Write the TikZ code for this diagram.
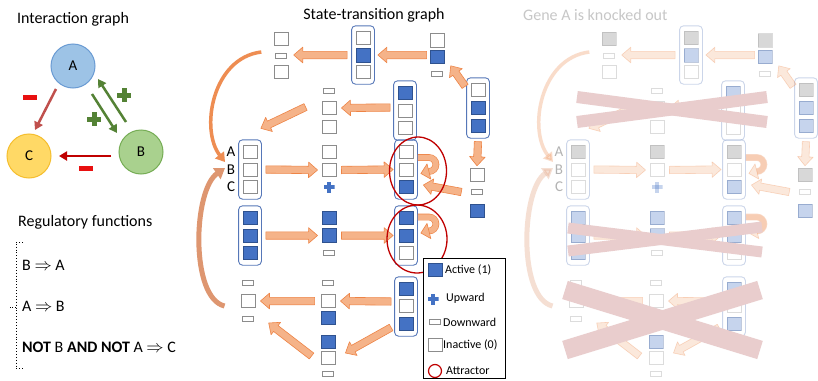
\documentclass[tikz,border=0pt]{standalone}
\usepackage{fontspec}
\setmainfont{Carlito}
\usetikzlibrary{calc,fit,shapes.geometric,arrows.meta}
\definecolor{blueact}{HTML}{4472C4}
\definecolor{bluedark}{HTML}{2F528F}
\definecolor{cellgray}{HTML}{8C8C8C}
\definecolor{cellknock}{HTML}{7F7F7F}
\definecolor{boxblue}{HTML}{5677B8}
\definecolor{arrfill}{HTML}{F5B389}
\definecolor{arrdraw}{HTML}{EE8446}
\definecolor{curveA}{HTML}{EE8D52}
\definecolor{curveB}{HTML}{DE9670}
\definecolor{attred}{HTML}{C00000}
\definecolor{fillA}{HTML}{9DC3E6}
\definecolor{edgeA}{HTML}{6A9BD3}
\definecolor{fillB}{HTML}{A9D18E}
\definecolor{edgeB}{HTML}{76AD55}
\definecolor{fillC}{HTML}{FFD966}
\definecolor{edgeC}{HTML}{F5BE2E}
\definecolor{redA}{HTML}{C0504D}
\definecolor{redB}{HTML}{C00000}
\definecolor{grn}{HTML}{548235}
\definecolor{minred}{HTML}{E81010}
\definecolor{xpink}{HTML}{E9CDCD}

\def\awid{3.7pt}\def\ahw{7.8pt}\def\ahl{9pt}

\newcommand\blkarrow[2]{\path[blk] let \p1=(#1), \p2=(#2), \n1={atan2(\y2-\y1,\x2-\x1)} in
 ($(\p1)+(\n1+90:\awid)$) -- ($(\p2)+(\n1+180:\ahl)+(\n1+90:\awid)$) -- ($(\p2)+(\n1+180:\ahl)+(\n1+90:\ahw)$) -- (\p2) -- ($(\p2)+(\n1+180:\ahl)+(\n1-90:\ahw)$) -- ($(\p2)+(\n1+180:\ahl)+(\n1-90:\awid)$) -- ($(\p1)+(\n1-90:\awid)$) -- cycle;}

\newcommand\blkhead[2]{\path[blk] let \p1=(#1), \p2=(#2), \n1={atan2(\y2-\y1,\x2-\x1)} in
 ($(\p1)+(\n1+90:\ahw)$) -- (\p2) -- ($(\p1)+(\n1-90:\ahw)$) -- cycle;}

\newcommand\st[9]{%
 \node[cell-#6] (#1-1) at (#2,#3) {};
 \node[cell-#7] (#1-2) at (#2,#4) {};
 \node[cell-#8] (#1-3) at (#2,#5) {};
 \node[#9, fit=(#1-1)(#1-3)] (#1) {};
}

\newcommand\drawpanel[1]{%
 \st{#1tl}{281}{39}{56}{72}{a}{d}{w}{stplain}
 \st{#1tm}{363}{38}{55.5}{72}{a}{b}{w}{stbox}
 \st{#1tr}{437}{40.5}{57}{74}{a}{b}{d}{stplain}
 \st{#1rbl}{329}{91}{108}{127}{d}{w}{w}{stplain}
 \st{#1rbm}{405}{93}{111}{128}{b}{w}{w}{stbox}
 \st{#1rbr}{478}{90}{108}{126}{a}{b}{b}{stbox}
 \st{#1abc}{250}{152}{170}{187}{a}{w}{w}{stbox}
 \st{#1rcm}{329}{152}{170}{187}{a}{w}{u}{stplain}
 \st{#1rcr}{406}{152}{170}{187}{a}{w}{b}{stbox}
 \st{#1rcf}{477}{175}{192}{211}{a}{d}{b}{stplain}
 \st{#1rdl}{250}{218}{236}{253}{b}{b}{b}{stbox}
 \st{#1rdm}{329}{218}{235.5}{253}{b}{b}{d}{stplain}
 \st{#1rdr}{406}{218}{236}{253}{b}{b}{w}{stbox}
 \st{#1rel}{248}{283}{301}{319}{d}{w}{d}{stplain}
 \st{#1rem}{328}{283}{301}{318}{d}{w}{b}{stplain}
 \st{#1rfm}{328}{342}{358}{374}{b}{w}{d}{stplain}
 \st{#1rer}{406}{289}{306}{324}{b}{w}{b}{stbox}
 \node[lbl] (#1lA) at (231,152) {A};
 \node[lbl] (#1lB) at (231,170) {B};
 \node[lbl] (#1lC) at (231,187) {C};
 \blkarrow{$(#1tr-2.west)+(-3,-2)$}{$(#1tm.east)+(3,0)$}
 \blkarrow{$(#1tm.west)+(-4,0)$}{$(#1tl-2.east)+(7,-1)$}
 \blkarrow{$(#1rbr.north west)+(-1,9)$}{$(#1tr-3.north east)+(8,-5)$}
 \blkarrow{$(#1rbm.west)+(-3,-3)$}{$(#1rbl-2.east)+(5,0)$}
 \blkarrow{$(#1rbl-2.west)+(-16,-1)$}{$(#1abc.north east)+(-1,-11)$}
 \blkarrow{$(#1abc.east)+(4,0)$}{$(#1rcm-2.west)+(-4,0)$}
 \blkarrow{$(#1rcm-2.east)+(5,0)$}{$(#1rcr.west)+(-1,0)$}
 \blkarrow{$(#1rdl.east)+(4,0)$}{$(#1rdm-2.west)+(-4,0)$}
 \blkarrow{$(#1rdm-2.east)+(5,0)$}{$(#1rdr.west)+(-1,0)$}
 \blkarrow{$(#1rer.west)+(-3,-5)$}{$(#1rem-2.east)+(5,0)$}
 \blkarrow{$(#1rem-2.west)+(-6,0)$}{$(#1rel-2.east)+(5,0)$}
 \blkarrow{$(#1rer.west)+(-3,21)$}{$(#1rfm-2.east)+(10,-5)$}
 \blkarrow{$(#1rfm-2.west)+(-9,-2)$}{$(#1rel-3.east)+(15,4)$}
 \blkarrow{$(#1rbr.south)+(0,3)$}{$(#1rcf-1.north)+(0,-2)$}
 \blkarrow{$(#1rcf-2.west)+(-10,0)$}{$(#1rcr-3.east)+(10,-2)$}
 \draw[loopline] ($(#1rcr.east)+(0,-12)$) -- ++(11,0) arc[start angle=90,end angle=-90,radius=7pt];
 \blkhead{$(#1rcr.east)+(11,2)$}{$(#1rcr.east)+(3,4)$}
 \draw[loopline] ($(#1rdr.east)+(0,-18.5)$) -- ++(11,0) arc[start angle=90,end angle=-90,radius=7pt];
 \blkhead{$(#1rdr.east)+(11,-4.5)$}{$(#1rdr.east)+(3,-2.5)$}
 \draw[curvA] ($(#1tl-2.west)+(-14,-4)$) .. controls (212,58) and (200,130) .. ([shift={(-6,-8)}]#1lB.center);
 \draw[curvB] ($(#1rel-2.west)+(-16,5)$) .. controls (190,298) and (193,190) .. ([shift={(-6,-2)}]#1lB.center);
}

\begin{document}
\begin{tikzpicture}[x=1pt,y=-1pt,
 cellbase/.style={rectangle, inner sep=0pt, minimum width=14pt, minimum height=13.5pt, line width=0.9pt},
 cell-w/.style={cellbase, draw=cellgray, fill=white},
 cell-a/.style={cell-w},
 cell-g/.style={cellbase, draw=cellgray, fill=cellknock},
 cell-b/.style={cellbase, draw=bluedark, fill=blueact},
 cell-d/.style={rectangle, inner sep=0pt, minimum width=10.5pt, minimum height=5.5pt, line width=0.9pt, draw=cellgray, fill=white},
 cell-u/.style={rectangle, inner sep=0pt, minimum size=11pt, fill=white, path picture={
   \fill[blueact] ([xshift=-5.5pt,yshift=-2pt]path picture bounding box.center) rectangle ([xshift=5.5pt,yshift=2pt]path picture bounding box.center);
   \fill[blueact] ([xshift=-2pt,yshift=-5.5pt]path picture bounding box.center) rectangle ([xshift=2pt,yshift=5.5pt]path picture bounding box.center);}},
 gplus/.style={rectangle, inner sep=0pt, minimum size=14pt, fill=white, path picture={
   \fill[grn] ([xshift=-7pt,yshift=-2.5pt]path picture bounding box.center) rectangle ([xshift=7pt,yshift=2.5pt]path picture bounding box.center);
   \fill[grn] ([xshift=-2.5pt,yshift=-7pt]path picture bounding box.center) rectangle ([xshift=2.5pt,yshift=7pt]path picture bounding box.center);}},
 minussign/.style={rectangle, inner sep=0pt, minimum width=14pt, minimum height=5pt, fill=minred},
 stbox/.style={draw=boxblue, line width=0.9pt, rounded corners=4pt, inner xsep=4pt, inner ysep=5pt},
 stplain/.style={inner sep=0pt},
 blk/.style={draw=arrdraw, fill=arrfill, line width=0.6pt, line join=round},
 loopline/.style={draw=arrdraw, line width=0.6pt, double=arrfill, double distance=5.5pt},
 curvA/.style={draw=curveA, line width=3.5pt, -{Triangle[width=11pt,length=9pt]}},
 curvB/.style={draw=curveB, line width=5pt, -{Triangle[width=13pt,length=10pt]}},
 lbl/.style={inner sep=0pt, font=\fontsize{15}{18}\selectfont},
 ttl/.style={inner sep=0pt, font=\fontsize{16}{19}\selectfont},
 fn/.style={inner sep=0pt, anchor=west, font=\fontsize{16}{19}\selectfont},
 lgtext/.style={inner sep=0pt, anchor=west, font=\fontsize{12}{14}\selectfont},
 inode/.style={circle, minimum size=44pt, inner sep=0pt, line width=1pt, font=\fontsize{15}{18}\selectfont},
 iarr/.style={line width=2.5pt, -{Triangle[width=9pt,length=8pt]}},
 attr/.style={ellipse, draw=attred, line width=1.3pt, inner sep=0pt}
]
\useasboundingbox (0,0) rectangle (818,380);
\fill[white] (0,0) rectangle (818,380);

% ---------- left panel ----------
\node[ttl, anchor=west] (tIG) at (17,19) {Interaction graph};
\node[inode, fill=fillA, draw=edgeA] (A) at (73,66) {A};
\node[inode, fill=fillB, draw=edgeB] (B) at (141,152) {B};
\node[inode, fill=fillC, draw=edgeC] (C) at (29,156) {C};
\draw[iarr, redA] ([shift={(-17,23)}]A.center) -- ([shift={(6,-26)}]C.center);
\draw[iarr, redB] ([shift={(-30,4)}]B.center) -- ([shift={(30,0)}]C.center);
\draw[iarr, grn] ([shift={(19,28)}]A.center) -- ([shift={(-24,-19)}]B.center);
\draw[iarr, grn] ([shift={(-15,-30)}]B.center) -- ([shift={(25,13)}]A.center);
\node[minussign] (m1) at (30,97) {};
\node[minussign] (m2) at (86,168) {};
\node[gplus] (p1) at (124,95) {};
\node[gplus] (p2) at (94,119) {};

\node[ttl, anchor=west] (tRF) at (18,222) {Regulatory functions};
\node[fn] (f1) at (22,265) {B $\Rightarrow$ A};
\node[fn] (f2) at (22,306) {A $\Rightarrow$ B};
\node[fn] (f3) at (22,347) {\textbf{NOT} B \textbf{AND NOT} A $\Rightarrow$ C};
\draw[dotted, line width=0.9pt] (23,242) -- (16,242) -- (16,368) -- (23,368);
\draw[dotted, line width=0.9pt] (16,307) -- (10,307);

% ---------- middle panel ----------
\node[ttl] (tST) at (374,15) {State-transition graph};
\drawpanel{}
\node[attr, minimum width=57pt, minimum height=68pt] (att1) at ($(rcr)+(12,1.5)$) {};
\node[attr, minimum width=60pt, minimum height=68pt] (att2) at ($(rdr)+(11,3.5)$) {};

% legend
\node[draw=black, line width=0.8pt, minimum width=82pt, minimum height=120pt, anchor=north west, inner sep=0pt, fill=white] (legend) at (423,258) {};
\node[cell-b] (lgA) at (435,270) {};
\node[lgtext] (lgAt) at (445,270) {Active (1)};
\node[cell-u] (lgU) at (433,299) {};
\node[lgtext] (lgUt) at (446,298) {Upward};
\node[cell-d] (lgD) at (435,322) {};
\node[lgtext] (lgDt) at (443,322) {Downward};
\node[cell-w] (lgI) at (435,345) {};
\node[lgtext] (lgIt) at (443,345) {Inactive (0)};
\node[circle, draw=attred, line width=1.2pt, minimum size=13pt, inner sep=0pt] (lgC) at (435,371) {};
\node[lgtext] (lgCt) at (446,371) {Attractor};

% ---------- right panel ----------
\node[ttl, anchor=west, text=black!22] (tKO) at (523,15) {Gene A is knocked out};
\begin{scope}[xshift=328pt, opacity=0.3, cell-a/.style={cell-g}]
\drawpanel{k}
\end{scope}
\draw[xpink, line width=12pt] (577,97) -- (767,122);
\draw[xpink, line width=12pt] (577,122) -- (767,97);
\draw[xpink, line width=11pt] (568,228) -- (762,252);
\draw[xpink, line width=11pt] (568,251) -- (762,227);
\draw[xpink, line width=19pt] (565,290) -- (760,350);
\draw[xpink, line width=19pt] (565,350) -- (760,290);
\end{tikzpicture}
\end{document}
